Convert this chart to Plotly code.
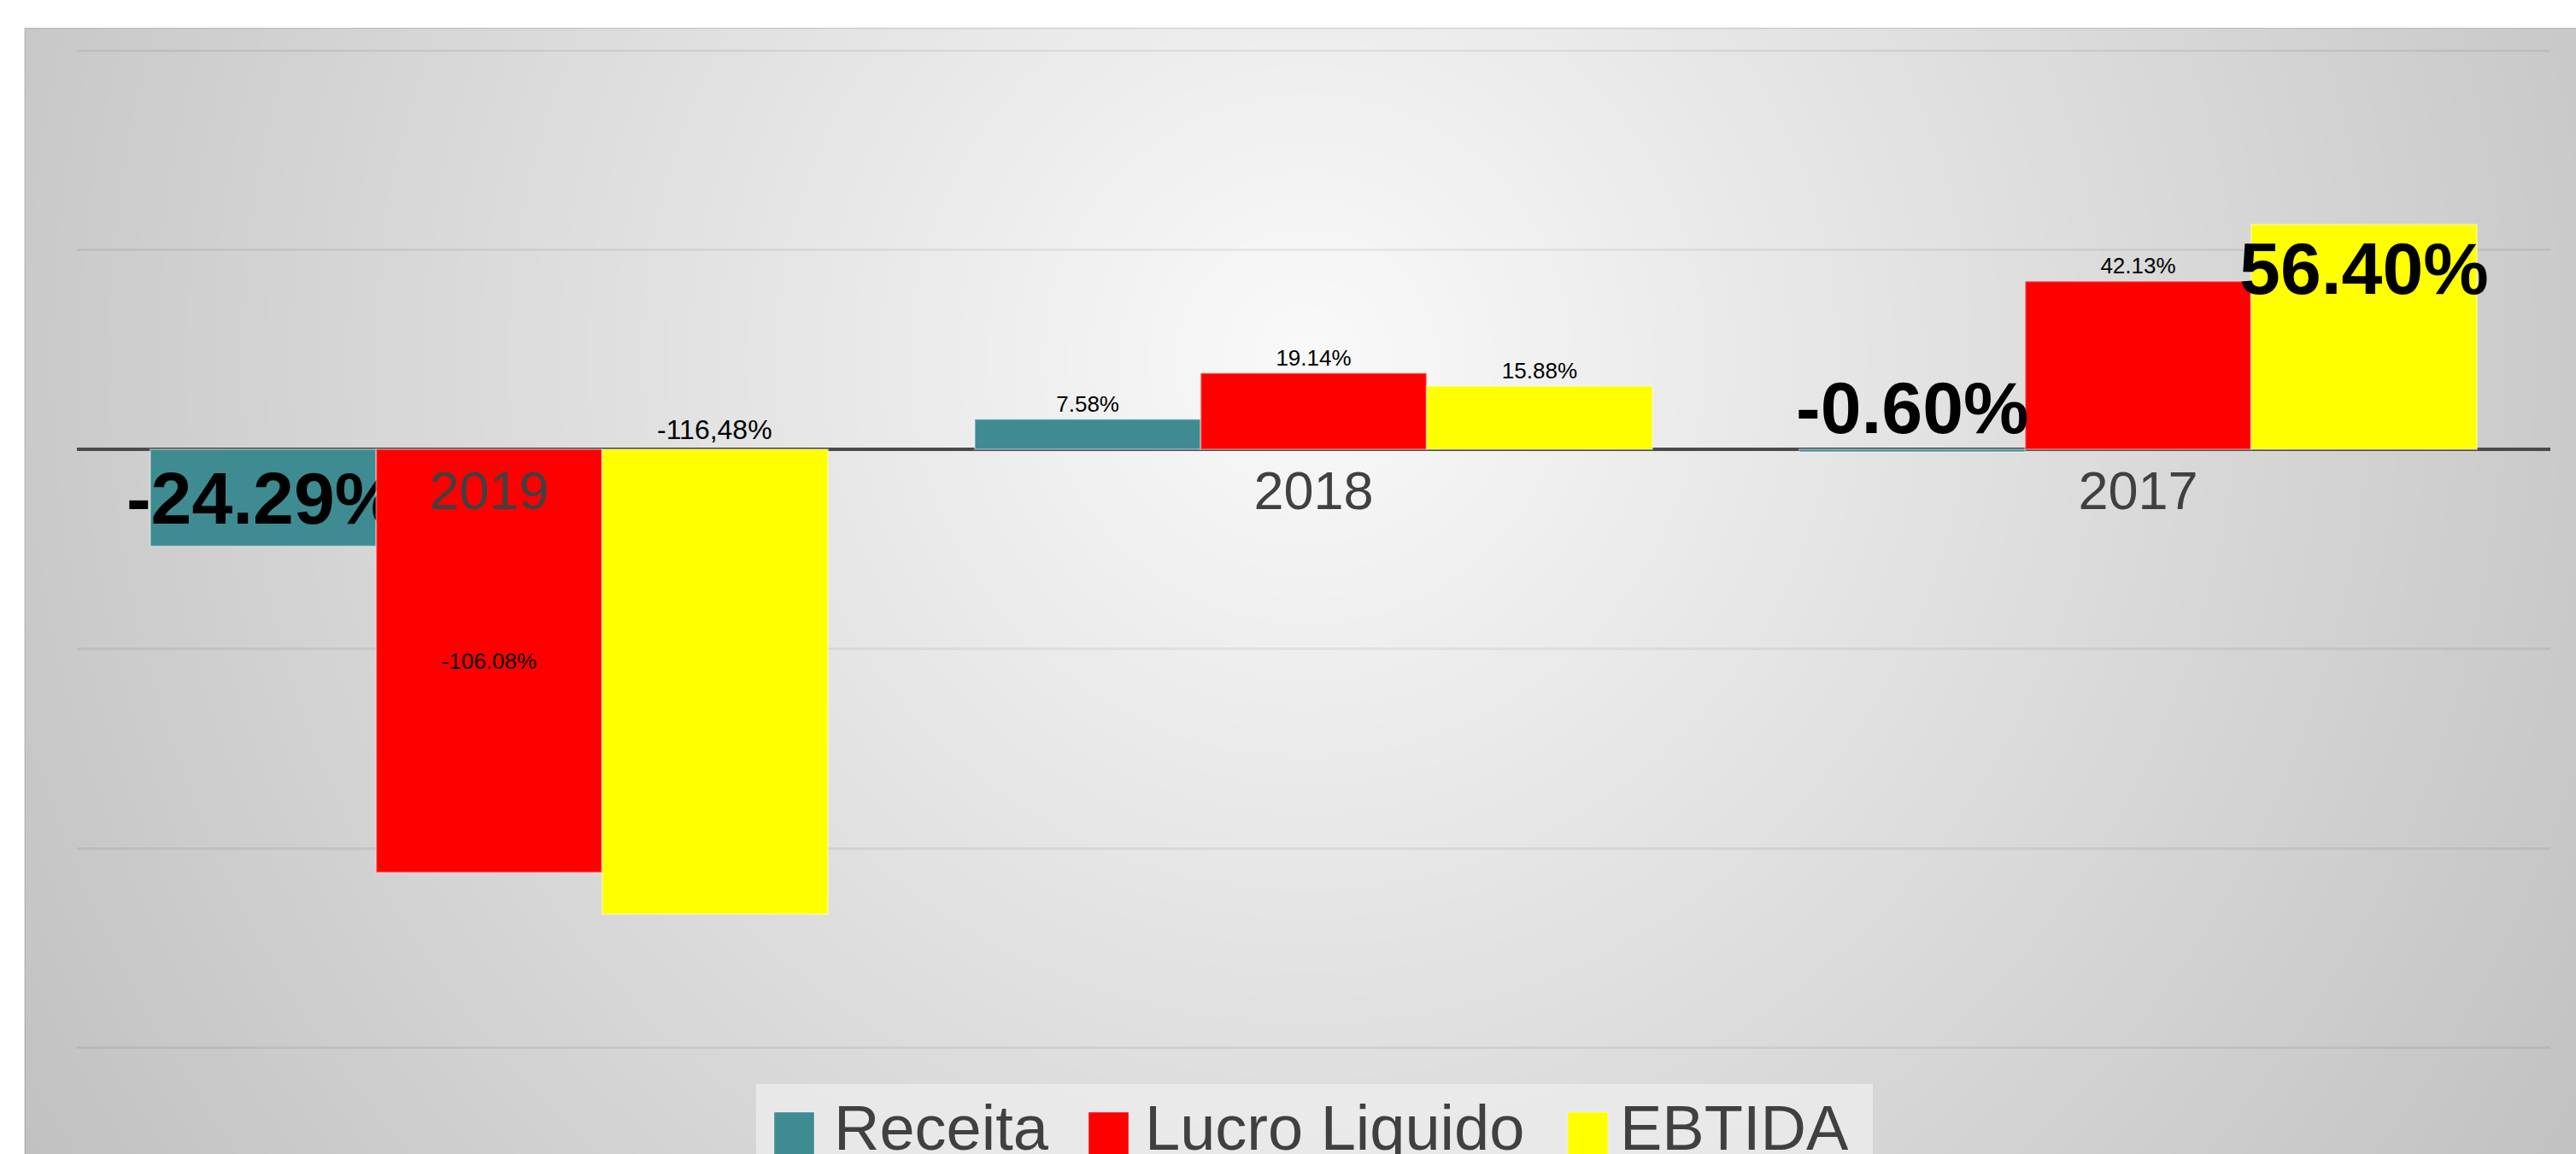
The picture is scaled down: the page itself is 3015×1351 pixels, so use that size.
import base64
import struct
import zlib

import numpy as np
import plotly.graph_objects as go

# ---------------- data ----------------
categories = ["2019", "2018", "2017"]
series_names = ["Receita", "Lucro Liquido", "EBTIDA"]
receita = [-24.29, 7.58, -0.60]
lucro_liquido = [-106.08, 19.14, 42.13]
ebtida = [-116.48, 15.88, 56.40]
ebtida_labels = ["-116,48%", "15.88%", "56.40%"]

# ---------------- styling ----------------
series_colors = ["#3E8B91", "#FF0000", "#FFFF00"]
FONT = "Liberation Sans, Arial, sans-serif"
W, H = 3015, 1351
M_L, M_R, M_T, M_B = 90, 30, 33, 100
Y_RANGE = [-155.2, 105.57]
BARGAP = 0.178
SMALL = 26
BIG = 86

plot_w = W - M_L - M_R
plot_h = H - M_T - M_B


def px_x(px):
    return (px - M_L) / plot_w


def px_y(py):
    return (H - M_B - py) / plot_h


def fmt(v):
    return f"{v:.2f}%"


# ---------- radial gradient background (styling only) ----------
def gradient_png(w, h, scale, cx, cy):
    yy, xx = np.mgrid[0:h, 0:w]
    d = np.hypot((xx + 0.5) * scale - cx, (yy + 0.5) * scale - cy)
    v = np.clip(250 - 0.032 * d, 188, 250).astype(np.uint8)
    raw = b"".join(b"\x00" + v[r].tobytes() for r in range(h))

    def chunk(t, data):
        c = struct.pack(">I", len(data)) + t + data
        return c + struct.pack(">I", zlib.crc32(t + data) & 0xFFFFFFFF)

    png = (b"\x89PNG\r\n\x1a\n"
           + chunk(b"IHDR", struct.pack(">IIBBBBB", w, h, 8, 0, 0, 0, 0))
           + chunk(b"IDAT", zlib.compress(raw, 9))
           + chunk(b"IEND", b""))
    return "data:image/png;base64," + base64.b64encode(png).decode()


BG_X0, BG_Y0 = 29, 33
BG_W, BG_H = W - BG_X0, H - BG_Y0
bg_src = gradient_png(BG_W // 2, BG_H // 2, 2, 1530 - BG_X0, 420 - BG_Y0)

# ---------------- traces ----------------
fig = go.Figure()

fig.add_trace(go.Bar(
    name=series_names[0], x=categories, y=receita,
    marker=dict(color=series_colors[0], line=dict(color="rgba(255,255,255,0.35)", width=2)),
    text=["<b>" + fmt(receita[0]) + "</b>", fmt(receita[1]), ""],
    textposition=["inside", "outside", "none"],
    insidetextanchor="middle",
    textfont=dict(family=FONT, size=[BIG, SMALL, SMALL], color="black"),
))
fig.add_trace(go.Bar(
    name=series_names[1], x=categories, y=lucro_liquido,
    marker=dict(color=series_colors[1], line=dict(color="rgba(255,255,255,0.35)", width=2)),
    text=[fmt(v) for v in lucro_liquido],
    textposition=["inside", "outside", "outside"],
    insidetextanchor="middle",
    textfont=dict(family=FONT, size=SMALL, color="black"),
))
fig.add_trace(go.Bar(
    name=series_names[2], x=categories, y=ebtida,
    marker=dict(color=series_colors[2], line=dict(color="rgba(255,255,255,0.35)", width=2)),
    text=["", ebtida_labels[1], "<b>" + ebtida_labels[2] + "</b>"],
    textposition=["none", "outside", "inside"],
    insidetextanchor="end",
    textfont=dict(family=FONT, size=[SMALL, SMALL, BIG], color="black"),
))
fig.update_traces(constraintext="none", textangle=0, cliponaxis=False, showlegend=False,
                  hoverinfo="skip")

# label offsets inside each category group, derived from the bar gap
bw = (1 - BARGAP) / 3
offsets = [-bw, 0, bw]

annotations = [
    dict(x=0 + offsets[2], y=0, xref="x", yref="y", text=ebtida_labels[0],
         showarrow=False, yanchor="bottom", yshift=4, borderpad=0,
         font=dict(family=FONT, size=32, color="black")),
    dict(x=2 + offsets[0], y=0, xref="x", yref="y", text="<b>" + fmt(receita[2]) + "</b>",
         showarrow=False, yanchor="bottom", yshift=0, borderpad=0,
         font=dict(family=FONT, size=BIG, color="black")),
]

# ---------------- custom legend ----------------
LEG_FONT = 74
shapes = [
    dict(type="rect", xref="paper", yref="paper",
         x0=px_x(BG_X0), x1=px_x(W + 5), y0=px_y(BG_Y0), y1=px_y(H + 5),
         line=dict(color="rgba(0,0,0,0.10)", width=2), fillcolor="rgba(0,0,0,0)", layer="below"),
    dict(type="rect", xref="paper", yref="paper",
         x0=px_x(885), x1=px_x(2192), y0=px_y(1269), y1=px_y(H + 10),
         line=dict(width=0), fillcolor="rgba(238,238,238,0.75)", layer="above"),
]
legend_marker_x = [906, 1274, 1835]
legend_text_x = [975, 1339, 1895]
for name, col, mx, tx in zip(series_names, series_colors, legend_marker_x, legend_text_x):
    shapes.append(dict(type="rect", xref="paper", yref="paper",
                       x0=px_x(mx), x1=px_x(mx + 47), y0=px_y(1302), y1=px_y(H + 10),
                       line=dict(color="rgba(255,255,255,0.4)", width=1), fillcolor=col, layer="above"))
    annotations.append(dict(x=px_x(tx), y=px_y(1278), xref="paper", yref="paper",
                            text=name, showarrow=False, xanchor="left", yanchor="top",
                            borderpad=0, font=dict(family=FONT, size=LEG_FONT, color="#404040")))

zero_frac = (0 - Y_RANGE[0]) / (Y_RANGE[1] - Y_RANGE[0])

fig.update_layout(
    width=W, height=H,
    margin=dict(l=M_L, r=M_R, t=M_T, b=M_B, autoexpand=False),
    paper_bgcolor="white",
    plot_bgcolor="rgba(0,0,0,0)",
    barmode="group", bargap=BARGAP, bargroupgap=0,
    font=dict(family=FONT),
    showlegend=False,
    xaxis=dict(type="category", categoryorder="array", categoryarray=categories,
               anchor="free", position=zero_frac, showline=False, ticks="",
               showgrid=False, zeroline=False, ticklabelstandoff=6,
               tickfont=dict(family=FONT, size=63, color="#404040")),
    yaxis=dict(range=Y_RANGE, tick0=0, dtick=50, showticklabels=False, ticks="",
               showgrid=True, gridcolor="rgba(0,0,0,0.06)", gridwidth=3,
               zeroline=True, zerolinecolor="#4a4a4a", zerolinewidth=4, showline=False),
    images=[dict(source=bg_src, xref="paper", yref="paper",
                 x=px_x(BG_X0), y=px_y(BG_Y0), sizex=BG_W / plot_w, sizey=BG_H / plot_h,
                 xanchor="left", yanchor="top", sizing="stretch", layer="below")],
    shapes=shapes,
    annotations=annotations,
)

fig.write_html("out.html", config={"displayModeBar": False},
               post_script="document.body.style.margin='0';document.body.style.overflow='hidden';")
